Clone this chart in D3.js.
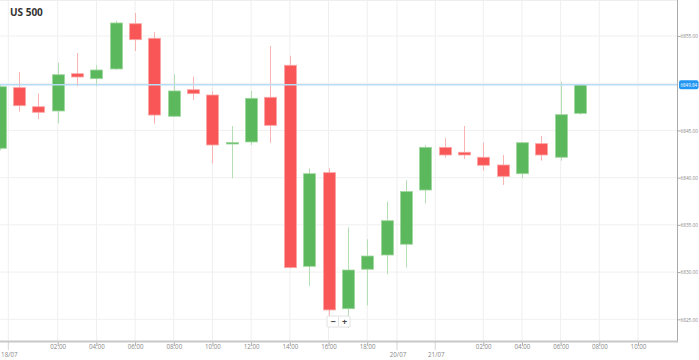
<!DOCTYPE html>
<html><head><meta charset="utf-8">
<script src="https://cdn.jsdelivr.net/npm/d3@7"></script>
<style>body{margin:0;background:#fff}svg{display:block}</style>
</head><body>
<svg id="c" width="699" height="360"></svg>
<script>
const title = "US 500";
const openV  = [6843.11,6849.53,6847.51,6847.06,6851.01,6850.48,6851.51,6856.30,6854.76,6846.50,6849.31,6848.75,6843.60,6843.78,6848.51,6851.90,6830.61,6840.53,6826.12,6830.30,6831.81,6832.95,6838.69,6843.21,6842.69,6842.16,6841.34,6840.42,6843.60,6842.16,6846.81];
const highV  = [6849.80,6851.19,6848.93,6852.17,6853.20,6851.93,6856.62,6857.44,6855.42,6850.94,6850.69,6849.14,6845.47,6849.18,6853.94,6852.91,6840.99,6840.99,6834.74,6833.47,6837.45,6839.72,6843.43,6844.20,6845.47,6843.70,6842.40,6843.75,6844.41,6850.16,6849.89];
const lowV   = [6842.90,6846.98,6846.21,6845.76,6849.67,6849.67,6851.40,6853.41,6845.71,6846.45,6848.22,6841.52,6839.93,6843.46,6843.70,6830.40,6828.53,6824.29,6824.08,6826.48,6829.77,6830.49,6837.29,6842.11,6841.98,6840.74,6839.22,6839.93,6841.80,6841.80,6846.67];
const closeV = [6849.63,6847.62,6846.92,6850.90,6850.66,6851.40,6856.38,6854.61,6846.63,6849.18,6848.89,6843.46,6843.72,6848.40,6845.54,6830.47,6840.42,6825.99,6830.22,6831.70,6835.44,6838.53,6843.21,6842.40,6842.40,6841.31,6840.14,6843.70,6842.40,6846.67,6849.84];
const yGrid = [6825,6830,6835,6840,6845,6850,6855];
const yTickLabels = [6825,6830,6835,6840,6845,6855];
const timeTickPos = [3,5,7,9,11,13,15,17,19,25,27,29,31,33];
const timeTickLabels = ["02:00","04:00","06:00","08:00","10:00","12:00","14:00","16:00","18:00","02:00","04:00","06:00","08:00","10:00"];
const dateTickPos = [0.445,20.54,22.52];
const dateTickLabels = ["18/07","20/07","21/07"];
const currentPrice = closeV[closeV.length-1];

const svg = d3.select("#c");
const plotR = 677, plotB = 341.5;
const x = d3.scaleLinear().domain([0,33]).range([-0.3,638]);
const y = d3.scaleLinear().domain([6825,6855]).range([319.3,36]);
const font = "'Open Sans', Arial, sans-serif";
const G = {fill:"#5cb85c", stroke:"#9fd69f", wick:"#b3dfb3"};
const R = {fill:"#f95757", stroke:"#fca5a5", wick:"#fbb4b4"};

// grid
const allTicks = timeTickPos.concat(dateTickPos);
svg.append("g").selectAll("line").data(allTicks).join("line")
  .attr("x1",d=>x(d)).attr("x2",d=>x(d)).attr("y1",0).attr("y2",plotB)
  .attr("stroke","#efefef").attr("stroke-width",1);
svg.append("g").selectAll("line").data(yGrid).join("line")
  .attr("x1",0).attr("x2",plotR).attr("y1",d=>y(d)).attr("y2",d=>y(d))
  .attr("stroke","#f0f0f0").attr("stroke-width",1);
svg.append("line").attr("x1",0).attr("x2",plotR).attr("y1",0.5).attr("y2",0.5).attr("stroke","#eee");

// candles
const data = openV.map((o,i)=>({i,o,h:highV[i],l:lowV[i],c:closeV[i]}));
const gC = svg.append("g");
gC.selectAll("line.w").data(data).join("line").attr("class","w")
  .attr("x1",d=>Math.round(x(d.i))+0.5).attr("x2",d=>Math.round(x(d.i))+0.5)
  .attr("y1",d=>y(d.h)).attr("y2",d=>y(d.l))
  .attr("stroke",d=>d.c>=d.o?G.wick:R.wick).attr("stroke-width",1);
gC.selectAll("rect").data(data).join("rect")
  .attr("x",d=>Math.round(x(d.i))-5.5).attr("width",12)
  .attr("y",d=>y(Math.max(d.o,d.c)))
  .attr("height",d=>Math.max(1.5,Math.abs(y(d.o)-y(d.c))))
  .attr("fill",d=>d.c>=d.o?G.fill:R.fill)
  .attr("stroke",d=>d.c>=d.o?G.stroke:R.stroke).attr("stroke-width",0.8);

// current price line
svg.append("line").attr("x1",0).attr("x2",plotR).attr("y1",y(currentPrice)).attr("y2",y(currentPrice))
  .attr("stroke","#b7dcf5").attr("stroke-width",1.5);

// axes
svg.append("line").attr("x1",plotR+0.5).attr("x2",plotR+0.5).attr("y1",0).attr("y2",plotB+1)
  .attr("stroke","#aaa").attr("stroke-width",1);
svg.append("line").attr("x1",0).attr("x2",plotR+1).attr("y1",plotB).attr("y2",plotB)
  .attr("stroke","#c8c8c8").attr("stroke-width",2);

const yAxis = d3.axisRight(y).tickValues(yTickLabels).tickSize(3).tickFormat(d=>d.toFixed(2));
const ya = svg.append("g").attr("transform",`translate(${plotR+0.5},0)`).call(yAxis);
ya.select(".domain").remove();
ya.selectAll("line").attr("stroke","#aaa");
ya.selectAll("text").attr("font-family",font).attr("font-size",5.4).attr("fill","#888").attr("x",3)
  .attr("textLength",17.5).attr("lengthAdjust","spacingAndGlyphs");

const xAxis = d3.axisBottom(x).tickValues(timeTickPos).tickSize(3).tickFormat((d,i)=>timeTickLabels[i]);
const xa = svg.append("g").attr("transform",`translate(0,${plotB+1})`).call(xAxis);
xa.select(".domain").remove();
xa.selectAll("line").attr("stroke","#aaa");
xa.selectAll("text").attr("font-family",font).attr("font-size",6.2).attr("fill","#888").attr("dy","0.55em").attr("y",3);

// date ticks
const gd = svg.append("g");
gd.selectAll("line").data(dateTickPos).join("line")
  .attr("x1",d=>x(d)).attr("x2",d=>x(d)).attr("y1",plotB+1).attr("y2",plotB+9)
  .attr("stroke","#aaa").attr("stroke-dasharray","1,1");
gd.selectAll("text").data(dateTickPos).join("text")
  .attr("x",d=>x(d)+1).attr("y",356.5).attr("text-anchor","middle")
  .attr("font-family",font).attr("font-size",6.2).attr("fill","#888")
  .text((d,i)=>dateTickLabels[i]);

// current price label
const py = y(currentPrice);
svg.append("rect").attr("x",679).attr("y",py-4.5).attr("width",19.5).attr("height",9).attr("rx",2).attr("fill","#2196f3");
svg.append("text").attr("x",680.5).attr("y",py+2)
  .attr("font-family",font).attr("font-size",5.4).attr("fill","#fff")
  .attr("textLength",16.5).attr("lengthAdjust","spacingAndGlyphs").text(currentPrice.toFixed(2));

// title
svg.append("text").attr("x",10).attr("y",16).attr("font-family",font).attr("font-weight","bold")
  .attr("font-size",10).attr("fill","#333").text(title);

// zoom control
const zc = svg.append("g").attr("transform","translate(327,316)");
zc.append("rect").attr("width",23).attr("height",11).attr("fill","#fff").attr("stroke","#e2e2e2").attr("rx",1);
zc.append("line").attr("x1",11.5).attr("x2",11.5).attr("y1",1).attr("y2",10).attr("stroke","#e2e2e2");
zc.append("text").attr("x",6).attr("y",8.5).attr("text-anchor","middle").attr("font-family",font).attr("font-weight","bold").attr("font-size",9).attr("fill","#444").text("−");
zc.append("text").attr("x",17.5).attr("y",8.5).attr("text-anchor","middle").attr("font-family",font).attr("font-weight","bold").attr("font-size",9).attr("fill","#444").text("+");
</script>
</body></html>
